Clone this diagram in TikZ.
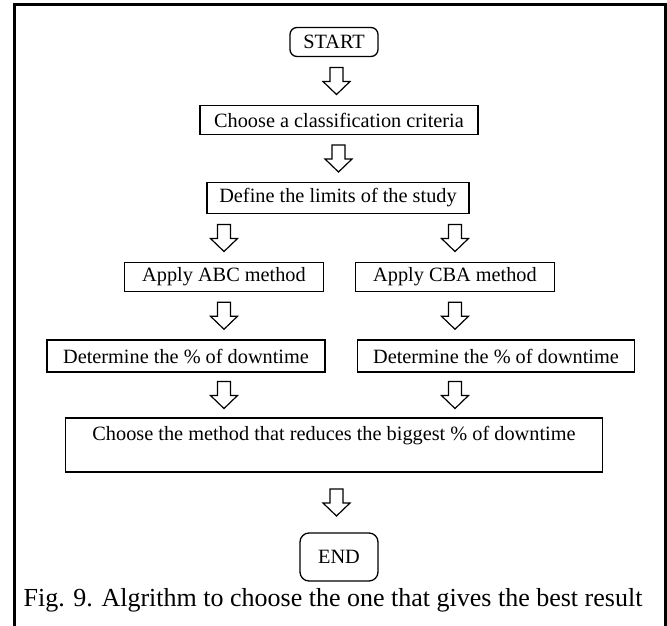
\documentclass[tikz,border=0pt]{standalone}
\usepackage{fontspec}
\setmainfont{Liberation Serif}
\usetikzlibrary{calc, positioning}
\tikzset{
  stepbox/.style={
    draw, line width=1.3pt, fill=white, inner sep=0pt,
    minimum height=29pt, font=\fontsize{20.3}{24}\selectfont
  },
  terminal/.style={stepbox, rounded corners=7pt},
  blockarrow/.pic={
    \draw[line width=1.2pt, fill=white]
      (-6.5,13.5) -- (6.5,13.5) -- (6.5,-0.5) -- (13.5,-0.5) -- (0,-13.5)
      -- (-13.5,-0.5) -- (-6.5,-0.5) -- cycle;
  },
  caption/.style={font=\fontsize{26}{30}\selectfont}
}

\begin{document}
\begin{tikzpicture}[x=1pt,y=1pt,yscale=-1]
  \useasboundingbox (0,0) rectangle (667,626);
  % open frame round the figure
  \draw[line width=3pt] (14,626) -- (14,5) -- (665,5) -- (665,626);

  % boxes
  \node[terminal, minimum width=88pt] (start) at (334,42) {START};
  \node[stepbox, minimum width=278pt] (crit) at (339,120) {Choose a classification criteria};
  \node[stepbox, minimum width=262pt, minimum height=31pt] (limits) at (338,198) {Define the limits of the study};
  \node[stepbox, minimum width=199pt] (abc) at (224,277) {Apply ABC method};
  \node[stepbox, minimum width=199pt] (cba) at (455,277) {Apply CBA method};
  \node[stepbox, minimum width=278pt, minimum height=32pt] (detabc) at (186,356) {Determine the \% of downtime};
  \node[stepbox, minimum width=277pt, minimum height=32pt] (detcba) at (496,356) {Determine the \% of downtime};
  \node[stepbox, minimum width=537pt, minimum height=54pt, text depth=24pt] (best) at (334,445) {Choose the method that reduces the biggest \% of downtime};
  \node[terminal, minimum width=78pt, minimum height=48pt, rounded corners=9pt] (stop) at (339,557) {END};

  % block arrows between the steps
  \coordinate (a1) at ($(start.south)!0.5!(crit.north)$);
  \coordinate (a2) at ($(crit.south)!0.5!(limits.north)$);
  \coordinate (a3) at ($(abc |- limits.south)!0.5!(abc.north)$);
  \coordinate (a4) at ($(cba |- limits.south)!0.5!(cba.north)$);
  \coordinate (a5) at ($(abc.south)!0.5!(abc |- detabc.north)$);
  \coordinate (a6) at ($(cba.south)!0.5!(cba |- detcba.north)$);
  \coordinate (a7) at ($(abc |- detabc.south)!0.5!(abc |- best.north)$);
  \coordinate (a8) at ($(cba |- detcba.south)!0.5!(cba |- best.north)$);
  \coordinate (a9) at ($(best.south)!0.5!(stop.north)$);
  \foreach \a in {a1,a2,a3,a4,a5,a6,a7,a8,a9}
    \pic at (\a) {blockarrow};

  \node[caption] (cap) at (333,600) {Fig. 9. Algrithm to choose the one that gives the best result};
\end{tikzpicture}
\end{document}
